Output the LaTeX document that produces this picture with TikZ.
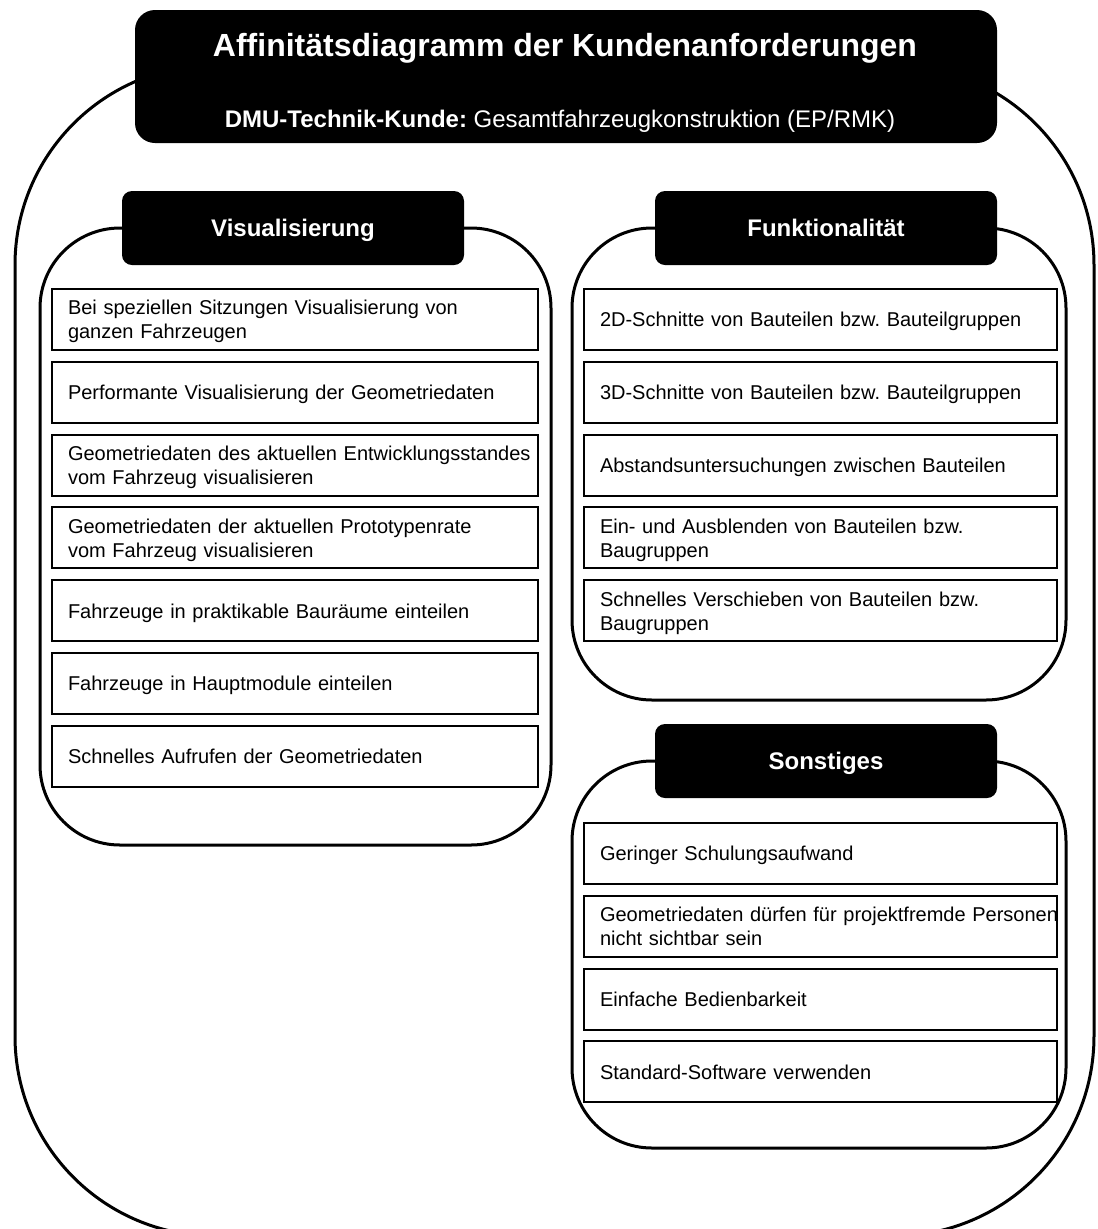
\documentclass[tikz,border=0pt]{standalone}
\usepackage{fontspec}
\setmainfont{Liberation Sans}
\usepackage{tikz}
\frenchspacing

\tikzset{
  cluster/.style={draw, line width=2.25pt, rounded corners=#1},
  banner/.style={fill=black, rounded corners=15pt,
    minimum width=646.5pt, minimum height=99.75pt},
  heading/.style={fill=black, text=white, rounded corners=7.5pt,
    minimum width=256.5pt, minimum height=55.5pt,
    font=\bfseries\fontsize{18}{21}\selectfont, text height=13pt, text depth=0pt},
  card/.style={draw, line width=1.5pt, anchor=north west, align=left,
    minimum width=#1, minimum height=45.75pt, text width=#1,
    inner xsep=0pt, inner ysep=2pt, font=\fontsize{15}{18}\selectfont,
    execute at begin node={\leftskip=12pt\rightskip=-8pt plus 1fil
      \hyphenpenalty=10000\rule{0pt}{16.5pt}},
    execute at end node={\strut}},
}

\begin{document}
\begin{tikzpicture}[x=0.75pt, y=-0.75pt]
    \path[use as bounding box, fill=white] (0,0) rectangle (1098,1229);

    % outer frame and banner
    \draw[cluster=150pt] (15,65) rectangle (1094,1236);
    \node[banner] (banner) at (566,76.5) {};
    \node[text=white, font=\bfseries\fontsize{24}{28}\selectfont,
          text height=17.2pt, text depth=0pt] (title) at (565,45)
      {Affinitätsdiagramm der Kundenanforderungen};
    \node[text=white, font=\fontsize{18}{21}\selectfont,
          text height=13pt, text depth=0pt] (customer) at (560,119)
      {\textbf{DMU-Technik-Kunde:} Gesamtfahrzeugkonstruktion (EP/RMK)};

    % Visualisierung
    \draw[cluster=60pt] (40,228) rectangle (551,845);
    \node[heading] (vis) at (293,228) {Visualisierung};
    \foreach \txt [count=\i] in {
        {Bei speziellen Sitzungen Visualisierung von\\ganzen Fahrzeugen},
        {Performante Visualisierung der Geometriedaten},
        {Geometriedaten des aktuellen Entwicklungsstandes\\vom Fahrzeug visualisieren},
        {Geometriedaten der aktuellen Prototypenrate\\vom Fahrzeug visualisieren},
        {Fahrzeuge in praktikable Bauräume einteilen},
        {Fahrzeuge in Hauptmodule einteilen},
        {Schnelles Aufrufen der Geometriedaten}}
      \node[card=364.5pt] (vis\i) at (51,{288+72.8*(\i-1)}) {\txt};

    % Funktionalität
    \draw[cluster=60pt] (572,228) rectangle (1066,700);
    \node[heading] (fun) at (826,228) {Funktionalität};
    \foreach \txt [count=\i] in {
        {2D-Schnitte von Bauteilen bzw. Bauteilgruppen},
        {3D-Schnitte von Bauteilen bzw. Bauteilgruppen},
        {Abstandsuntersuchungen zwischen Bauteilen},
        {Ein- und Ausblenden von Bauteilen bzw.\\Baugruppen},
        {Schnelles Verschieben von Bauteilen bzw.\\Baugruppen}}
      \node[card=354.75pt] (fun\i) at (583,{288+72.8*(\i-1)}) {\txt};

    % Sonstiges
    \draw[cluster=60pt] (572,761) rectangle (1066,1148);
    \node[heading] (misc) at (826,761) {Sonstiges};
    \foreach \txt [count=\i] in {
        {Geringer Schulungsaufwand},
        {Geometriedaten dürfen für projektfremde Personen\\nicht sichtbar sein},
        {Einfache Bedienbarkeit},
        {Standard-Software verwenden}}
      \node[card=354.75pt] (misc\i) at (583,{822+72.8*(\i-1)}) {\txt};
\end{tikzpicture}
\end{document}
